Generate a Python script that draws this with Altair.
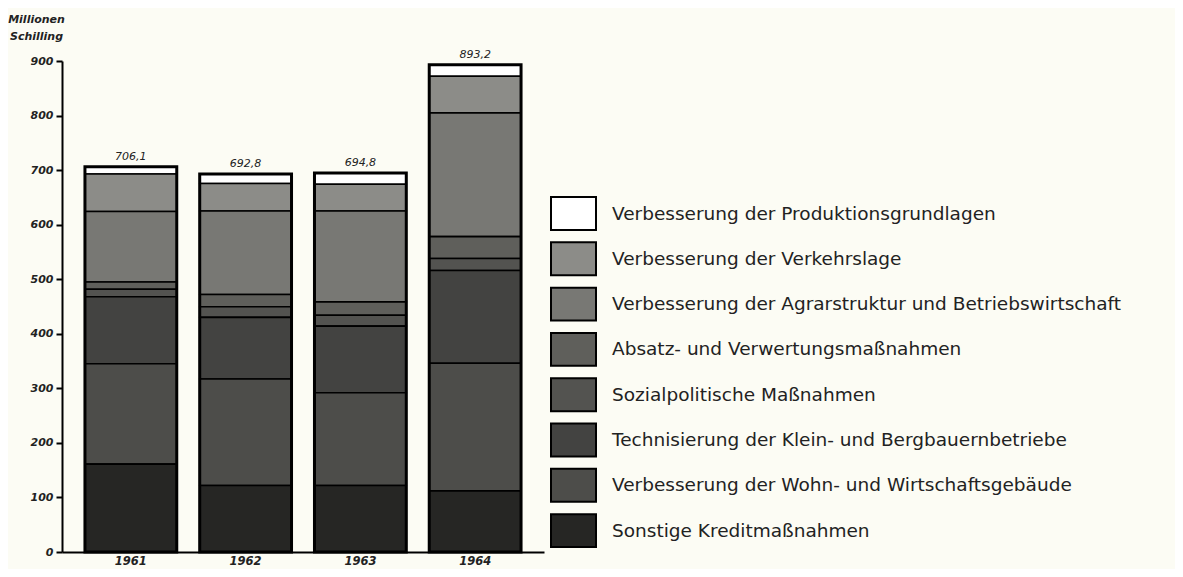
import altair as alt
import pandas as pd

years = ["1961", "1962", "1963", "1964"]
totals = [706.1, 692.8, 694.8, 893.2]
total_labels = ["706,1", "692,8", "694,8", "893,2"]

# categories listed top of stack -> bottom of stack
categories = [
    "Verbesserung der Produktionsgrundlagen",
    "Verbesserung der Verkehrslage",
    "Verbesserung der Agrarstruktur und Betriebswirtschaft",
    "Absatz- und Verwertungsmaßnahmen",
    "Sozialpolitische Maßnahmen",
    "Technisierung der Klein- und Bergbauernbetriebe",
    "Verbesserung der Wohn- und Wirtschaftsgebäude",
    "Sonstige Kreditmaßnahmen",
]
colors = ["#ffffff", "#8c8c88", "#787874", "#5f5f5b", "#535350",
          "#434341", "#4d4d4a", "#262624"]

produktion = [13.1, 17.3, 20.8, 21.2]
verkehr = [69.0, 50.5, 49.0, 67.0]
agrar = [129.0, 153.0, 166.5, 227.0]
absatz = [13.5, 22.5, 24.5, 40.0]
sozial = [13.5, 19.5, 20.0, 22.0]
technisierung = [123.0, 113.0, 122.0, 170.0]
wohn = [184.0, 195.0, 170.0, 234.0]
sonstige = [161.0, 122.0, 122.0, 112.0]

series = [produktion, verkehr, agrar, absatz, sozial, technisierung, wohn, sonstige]

rows = []
for ci, (cat, vals) in enumerate(zip(categories, series)):
    for y, v in zip(years, vals):
        rows.append({"year": y, "category": cat, "value": v,
                     "rank": len(categories) - 1 - ci})
df = pd.DataFrame(rows)
tot = pd.DataFrame({"year": years, "total": totals, "label": total_labels})

axis_font = "DejaVu Sans"
x_enc = alt.X("year:N", title="",
              scale=alt.Scale(paddingInner=0.2, paddingOuter=0.2),
              axis=alt.Axis(labelAngle=0, ticks=False, domainWidth=2,
                            domainColor="black", labelFont=axis_font,
                            labelFontStyle="italic", labelFontWeight="bold",
                            labelFontSize=11.5, labelColor="#222",
                            labelPadding=3))
y_scale = alt.Scale(domain=[0, 900], nice=False)

rect_path = "M-1,-0.73L1,-0.73L1,0.73L-1,0.73Z"

bars = alt.Chart(df).mark_bar(stroke="black", strokeWidth=1.6).encode(
    x=x_enc,
    y=alt.Y("value:Q", stack="zero", scale=y_scale,
            axis=alt.Axis(values=list(range(0, 901, 100)), grid=False,
                          title=["Millionen", "Schilling"], titleAngle=0,
                          titleAlign="center", titleBaseline="top",
                          titleX=-26, titleY=-48, titleFont=axis_font,
                          titleFontStyle="italic", titleFontWeight="bold",
                          titleFontSize=11, titleLineHeight=17, titleColor="#222",
                          labelFont=axis_font, labelFontStyle="italic",
                          labelFontWeight="bold", labelFontSize=11,
                          labelColor="#222", labelPadding=3,
                          tickSize=6, tickWidth=2, tickColor="black",
                          domainWidth=2, domainColor="black")),
    color=alt.Color("category:N",
                    scale=alt.Scale(domain=categories, range=colors),
                    legend=alt.Legend(orient="none", legendX=488, legendY=129,
                                      title=None, symbolType=rect_path,
                                      symbolSize=2025, symbolStrokeColor="black",
                                      symbolStrokeWidth=2, symbolOpacity=1,
                                      labelFont="DejaVu Sans", labelFontSize=18.5,
                                      labelColor="#222", labelOffset=15,
                                      rowPadding=1.3, labelLimit=800, padding=0)),
    order=alt.Order("rank:Q", sort="ascending"),
)

outline = alt.Chart(tot).mark_bar(fill="transparent", stroke="black",
                                  strokeWidth=3).encode(
    x=alt.X("year:N"),
    y=alt.Y("total:Q", scale=y_scale),
)

labels = alt.Chart(tot).mark_text(dy=-10, font=axis_font, fontStyle="italic",
                                  fontSize=11, color="#222").encode(
    x=alt.X("year:N"),
    y=alt.Y("total:Q", scale=y_scale),
    text="label:N",
)

chart = alt.layer(bars, outline, labels).properties(
    width=482, height=491,
    autosize=alt.AutoSizeParams(type="none"),
    padding={"left": 54, "top": 53, "right": 631, "bottom": 17},
    background="#fcfcf4",
).configure_view(stroke=None)

chart.save("out.html", embed_options={"renderer": "svg", "actions": False})
